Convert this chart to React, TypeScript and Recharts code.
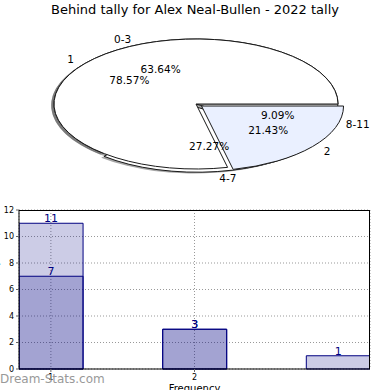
import React from 'react';
import {
  PieChart,
  Pie,
  BarChart,
  Bar,
  XAxis,
  YAxis,
  CartesianGrid,
  LabelList,
  Label
} from 'recharts';

// pie 1: behinds per game bucket
const bucketNames = ['0-3', '4-7', '8-11'];
const bucketCounts = [7, 3, 1];
// pie 2: behind tally
const tallyNames = ['1', '2'];
const tallyCounts = [11, 3];

// bar chart
const freqX = [1, 2, 3];
const freqTally = [11, 3, null];
const freqBucket = [7, 3, 1];
const xTicks = [1, 2];
const yTicks = [0, 2, 4, 6, 8, 10, 12];

const FONT = '"DejaVu Sans", Verdana, sans-serif';
const RAD = Math.PI / 180;
const SQUASH = 65 / 142; // the pie is drawn on a non-square axes -> ellipse

const bucketFills = ['#ffffff', '#ffffff', '#ffffff'];
const bucketExplode = [0, 0.05, 0];
const tallyFills = ['#ffffff', '#eaf0ff'];
const tallyExplode = [0, 0.05];

const bucketData = bucketNames.map((name, i) => ({ name, count: bucketCounts[i] }));
const tallyData = tallyNames.map((name, i) => ({ name, count: tallyCounts[i] }));
const barData = freqX.map((x, i) => ({ x, tally: freqTally[i], bucket: freqBucket[i] }));

type Mode = 'shadow' | 'wedge' | 'text';

function wedgePath(cx: number, cy: number, rx: number, ry: number, a0: number, a1: number) {
  const x0 = cx + rx * Math.cos(a0 * RAD);
  const y0 = cy - ry * Math.sin(a0 * RAD);
  const x1 = cx + rx * Math.cos(a1 * RAD);
  const y1 = cy - ry * Math.sin(a1 * RAD);
  const large = Math.abs(a1 - a0) > 180 ? 1 : 0;
  return `M${cx},${cy} L${x0},${y0} A${rx},${ry} 0 ${large} 0 ${x1},${y1} Z`;
}

// the sectors of the Pie itself are invisible; the label callback gets the
// library's angles and draws them squashed into an ellipse
const makeLabel = (mode: Mode, fills: string[], explode: number[]) => (p: any) => {
  const rx = p.outerRadius;
  const ry = p.outerRadius * SQUASH;
  const mid = p.midAngle * RAD;
  const e = explode[p.index] || 0;
  const cx = p.cx + e * rx * Math.cos(mid);
  const cy = p.cy - e * ry * Math.sin(mid);

  if (mode === 'text') {
    const cos = Math.cos(mid);
    const sin = Math.sin(mid);
    return (
      <g>
        <text
          x={cx + 1.1 * rx * cos}
          y={cy - 1.1 * ry * sin}
          textAnchor={cos > 0 ? 'start' : 'end'}
          dominantBaseline="central"
          fontSize={10.5}
          fontFamily={FONT}
          fill="#000"
        >
          {p.name}
        </text>
        <text
          x={cx + 0.6 * rx * cos}
          y={cy - 0.6 * ry * sin}
          textAnchor="middle"
          dominantBaseline="central"
          fontSize={10.5}
          fontFamily={FONT}
          fill="#000"
        >
          {(p.percent * 100).toFixed(2)}%
        </text>
      </g>
    );
  }

  const d = wedgePath(cx, cy, rx, ry, p.startAngle, p.endAngle);
  if (mode === 'shadow') {
    return (
      <path
        d={d}
        transform={`translate(${-0.02 * rx},${0.02 * ry})`}
        fill="#4d4d4d"
        fillOpacity={0.5}
        stroke="none"
      />
    );
  }
  return <path d={d} fill={fills[p.index]} stroke="#1a1a1a" strokeWidth={1} strokeLinejoin="round" />;
};

const pieDefs = [
  { key: 'bucket', data: bucketData, fills: bucketFills, explode: bucketExplode },
  { key: 'tally', data: tallyData, fills: tallyFills, explode: tallyExplode },
];

export default function App() {
  return (
    <div
      style={{
        position: 'absolute',
        left: 0,
        top: 0,
        width: 390,
        height: 390,
        background: '#fff',
        overflow: 'hidden',
        fontFamily: FONT
      }}
    >
      <div
        style={{
          position: 'absolute',
          top: 2,
          left: 0,
          width: 390,
          textAlign: 'center',
          fontSize: 13,
          color: '#000'
        }}
      >
        Behind tally for Alex Neal-Bullen - 2022 tally
      </div>

      <div style={{ position: 'absolute', left: 0, top: 0 }}>
        <PieChart width={390} height={195}>
          {(['shadow', 'wedge', 'text'] as Mode[]).flatMap((mode) =>
            pieDefs.map((def) => (
              <Pie
                key={`${mode}-${def.key}`}
                data={def.data}
                dataKey="count"
                nameKey="name"
                cx={191}
                cy={99}
                outerRadius={142}
                startAngle={0}
                endAngle={360}
                fill="none"
                stroke="none"
                label={makeLabel(mode, def.fills, def.explode)}
                labelLine={false}
                isAnimationActive={false}
              />
            ))
          )}
        </PieChart>
      </div>

      <div style={{ position: 'absolute', left: 0, top: 200 }}>
        <BarChart
          width={390}
          height={190}
          data={barData}
          margin={{ top: 10, right: 20, bottom: 0, left: 0 }}
          barSize={64}
          barGap={-64}
        >
          <CartesianGrid stroke="#999" strokeDasharray="1 2" />
          <XAxis
            dataKey="x"
            type="number"
            domain={[0.778, 3.222]}
            ticks={xTicks}
            allowDataOverflow
            height={21}
            tickSize={3}
            tick={{ fontSize: 8, fill: '#000', fontFamily: FONT }}
            tickLine={{ stroke: '#666' }}
            axisLine={{ stroke: '#000' }}
          >
            <Label
              value="Frequency"
              position="insideBottom"
              offset={-2}
              style={{ fontSize: 10, fill: '#000', fontFamily: FONT }}
            />
          </XAxis>
          <YAxis
            domain={[0, 12]}
            ticks={yTicks}
            width={19}
            tickSize={3}
            tick={{ fontSize: 8, fill: '#000', fontFamily: FONT }}
            tickLine={{ stroke: '#666' }}
            axisLine={{ stroke: '#000' }}
          >
            <Label
              value="Behind tally"
              angle={-90}
              position="insideLeft"
              offset={-6}
              style={{ fontSize: 10, fill: '#000', fontFamily: FONT, textAnchor: 'middle' }}
            />
          </YAxis>
          <Bar dataKey="tally" fill="#000080" fillOpacity={0.2} stroke="#000080" strokeWidth={1} isAnimationActive={false}>
            <LabelList dataKey="tally" position="top" offset={1} fill="#000080" fontSize={11} fontFamily={FONT} />
          </Bar>
          <Bar dataKey="bucket" fill="#000080" fillOpacity={0.2} stroke="#000080" strokeWidth={1} isAnimationActive={false}>
            <LabelList dataKey="bucket" position="top" offset={1} fill="#000080" fontSize={11} fontFamily={FONT} />
          </Bar>
        </BarChart>
      </div>

      {/* top and right spines of the bar plot */}
      <div
        style={{
          position: 'absolute',
          left: 19,
          top: 210,
          width: 351,
          height: 159,
          boxSizing: 'border-box',
          borderTop: '1px solid #000',
          borderRight: '1px solid #000',
          pointerEvents: 'none'
        }}
      />

      <div
        style={{
          position: 'absolute',
          left: 0,
          top: 372,
          fontSize: 12,
          color: '#999',
          fontFamily: FONT
        }}
      >
        Dream-Stats.com
      </div>
    </div>
  );
}
